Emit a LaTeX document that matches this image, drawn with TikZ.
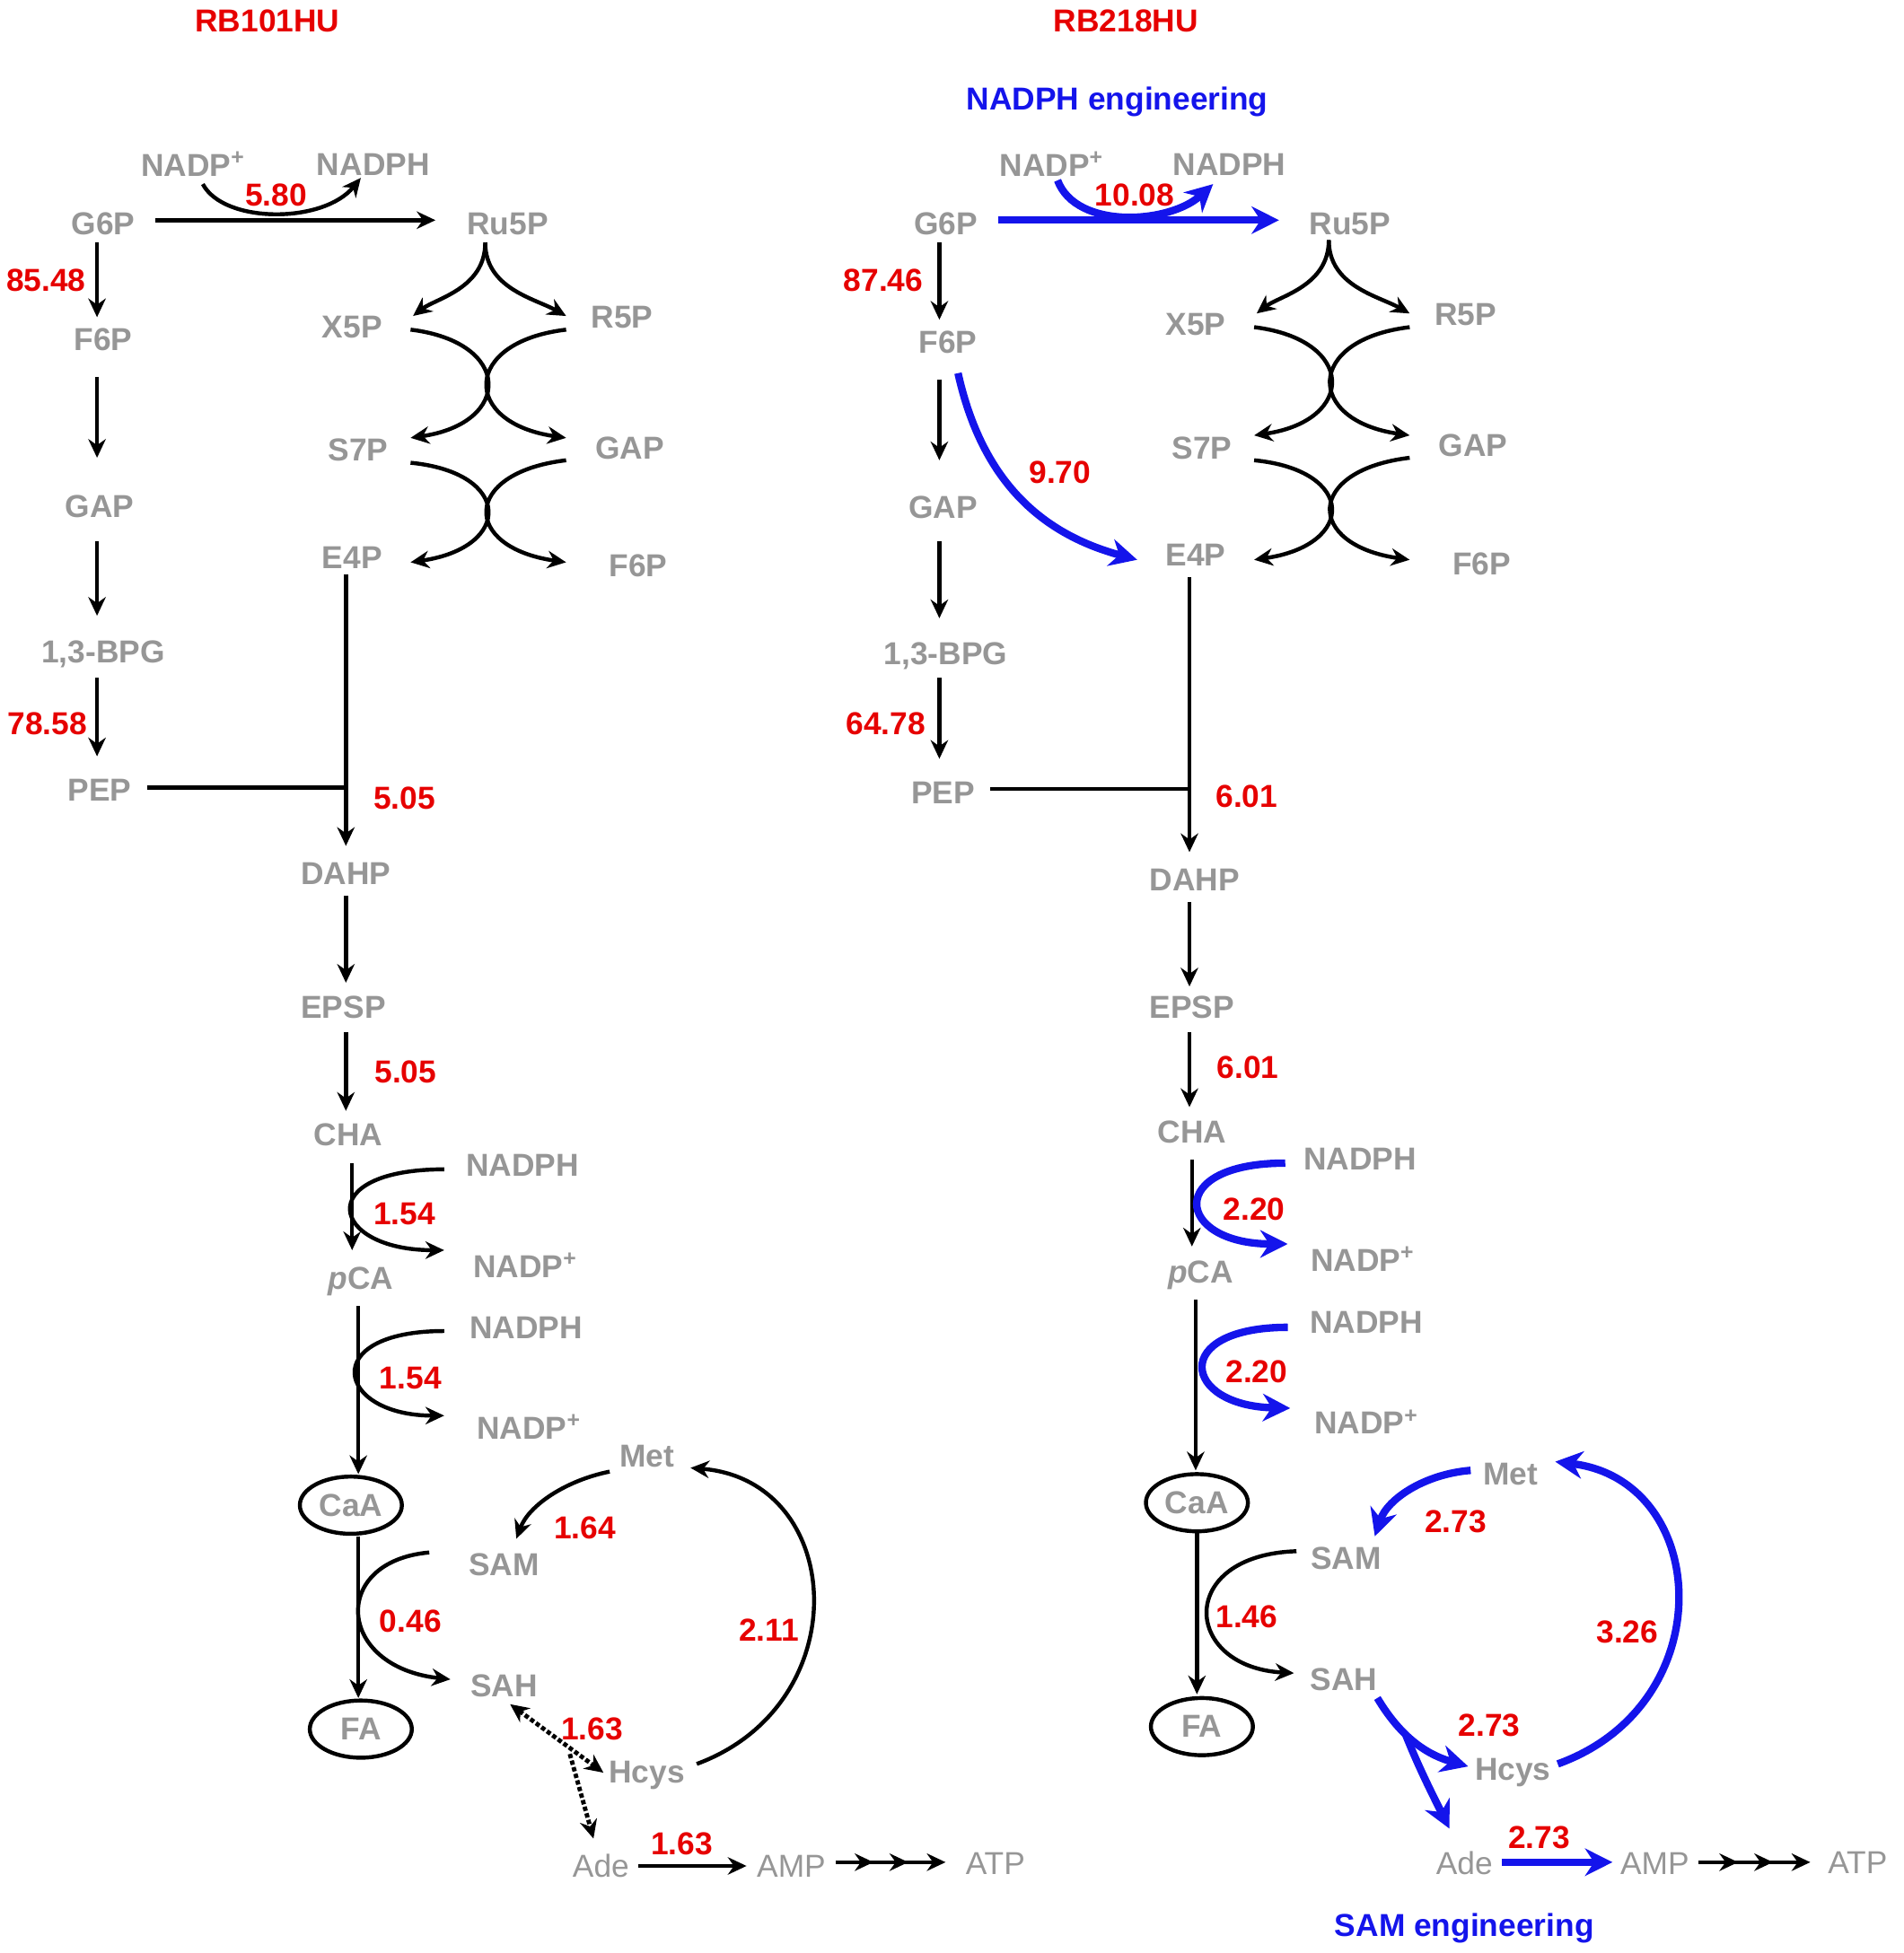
\documentclass[tikz,border=0pt]{standalone}
\usepackage{fontspec}
\setmainfont{Liberation Sans}
\usetikzlibrary{arrows.meta,shapes.geometric}
\definecolor{mgray}{RGB}{150,150,150}
\definecolor{mred}{RGB}{230,0,0}
\definecolor{mblue}{RGB}{20,20,235}
\begin{document}
\begin{tikzpicture}[x=1pt,y=-1pt,
 met/.style={text=mgray,font=\fontsize{25.5}{27}\selectfont\bfseries,inner sep=0},
 ade/.style={text=mgray,font=\fontsize{25.5}{27}\selectfont,inner sep=0},
 val/.style={text=mred,font=\fontsize{25.5}{27}\selectfont\bfseries,inner sep=0},
 ttl/.style={text=mred,font=\fontsize{25.5}{27}\selectfont\bfseries,inner sep=0},
 eng/.style={text=mblue,font=\fontsize{25.5}{27}\selectfont\bfseries,inner sep=0},
 ar/.style={line width=3.2pt,-{Stealth[length=15pt,width=14pt]}},
 ln/.style={line width=3.2pt},
 bar/.style={line width=6pt,mblue,-{Stealth[length=22pt,width=22pt]}},
 dt/.style={line width=3.5pt,dotted,{Stealth[length=15pt,width=14pt]}-{Stealth[length=15pt,width=14pt]}},
 ell/.style={draw,line width=3.2pt,shape=ellipse,minimum width=82pt,minimum height=46pt,inner sep=0,text=mgray,font=\fontsize{25.5}{27}\selectfont\bfseries}]
\useasboundingbox (0,0) rectangle (1530,1570);
\newcommand{\pppblock}{%
 \draw[ar] (390,195) .. controls (390,232) and (350,240) .. (332,254);
 \draw[ar] (390,195) .. controls (390,232) and (430,240) .. (455,254);
 \draw[ar] (330,265) .. controls (412,275) and (412,340) .. (330,352);
 \draw[ar] (455,265) .. controls (371,275) and (371,340) .. (455,352);
 \draw[ar] (330,372) .. controls (412,380) and (412,440) .. (330,452);
 \draw[ar] (455,370) .. controls (371,380) and (371,440) .. (455,452);
}
% ---------- LEFT -----------
\node[ttl] (t1) at (215,17) {RB101HU};
\node[met] (nadp1) at (155,132) {NADP\textsuperscript{+}};
\node[met] (nadph1) at (300,132) {NADPH};
\node[val] (v580) at (222,157) {5.80};
\node[met] (g6p) at (83,180) {G6P};
\node[met] (ru5p) at (408,180) {Ru5P};
\draw[ar] (125,177) -- (350,177);
\draw[ar] (163,148) .. controls (180,180) and (260,180) .. (290,143);
\node[val] (v8548) at (37,225) {85.48};
\node[met] (f6p) at (83,273) {F6P};
\draw[ar] (78,195) -- (78,255);
\draw[ar] (78,303) -- (78,368);
\node[met] (gap) at (80,407) {GAP};
\draw[ar] (78,435) -- (78,495);
\node[met] (bpg) at (83,526) {1,3-BPG};
\node[val] (v7858) at (38,582) {78.58};
\draw[ar] (78,545) -- (78,608);
\node[met] (pep) at (80,635) {PEP};
\node[met] (x5p) at (283,263) {X5P};
\node[met] (r5p) at (500,255) {R5P};
\node[met] (s7p) at (288,362) {S7P};
\node[met] (gap2) at (506,360) {GAP};
\node[met] (e4p) at (283,448) {E4P};
\node[met] (f6p2) at (513,455) {F6P};
\pppblock
\draw[ar] (278,462) -- (278,680);
\draw[ln] (118,633) -- (278,633);
\node[val] (v505a) at (325,642) {5.05};
\node[met] (dahp) at (278,702) {DAHP};
\draw[ar] (278,720) -- (278,790);
\node[met] (epsp) at (276,810) {EPSP};
\draw[ar] (278,830) -- (278,893);
\node[val] (v505b) at (326,862) {5.05};
\node[met] (cha) at (280,912) {CHA};
\node[met] (nadph2) at (420,937) {NADPH};
\draw[ar] (283,935) -- (283,1005);
\draw[ar] (357,940) .. controls (250,940) and (265,1005) .. (357,1005);
\node[val] (v154a) at (325,976) {1.54};
\node[met] (nadp2) at (422,1017) {NADP\textsuperscript{+}};
\node[met] (pca) at (290,1030) {\textit{p}CA};
\draw[ar] (288,1050) -- (288,1185);
\node[met] (nadph3) at (423,1067) {NADPH};
\draw[ar] (357,1070) .. controls (255,1070) and (270,1138) .. (357,1138);
\node[val] (v154b) at (330,1108) {1.54};
\node[met] (nadp3) at (425,1147) {NADP\textsuperscript{+}};
\node[ell] (caa) at (282,1210) {CaA};
\node[ell] (fa) at (290,1390) {FA};
\draw[ar] (288,1235) -- (288,1365);
\node[met] (met1) at (520,1171) {Met};
\node[met] (sam1) at (405,1258) {SAM};
\node[met] (sah1) at (405,1355) {SAH};
\node[met] (hcys1) at (520,1427) {Hcys};
\node[ade] (ade1) at (483,1500) {Ade};
\node[ade] (amp1) at (636,1500) {AMP};
\node[ade] (atp1) at (800,1498) {ATP};
\draw[ar] (490,1183) .. controls (455,1190) and (425,1210) .. (415,1237);
\node[val] (v164) at (470,1228) {1.64};
\draw[ar] (345,1248) .. controls (265,1255) and (270,1340) .. (362,1350);
\node[val] (v046) at (330,1303) {0.46};
\draw[ar] (560,1418) .. controls (690,1370) and (680,1190) .. (555,1180);
\node[val] (v211) at (618,1310) {2.11};
\draw[dt] (410,1370) -- (485,1425);
\draw[line width=3.5pt,dotted,-{Stealth[length=15pt,width=14pt]}] (458,1410) -- (477,1478);
\node[val] (v163a) at (476,1390) {1.63};
\draw[ar] (513,1500) -- (600,1500);
\node[val] (v163b) at (548,1482) {1.63};
\draw[ar] (672,1497) -- (702,1497);
\draw[ar] (698,1497) -- (730,1497);
\draw[ar] (726,1497) -- (760,1497);
% ---------- RIGHT -----------
\node[ttl] (t2) at (905,17) {RB218HU};
\node[eng] (e1) at (898,82) {NADPH engineering};
\node[met] (nadp4) at (845,132) {NADP\textsuperscript{+}};
\node[met] (nadph4) at (988,132) {NADPH};
\node[met] (g6pR) at (760,180) {G6P};
\node[met] (ru5pR) at (1085,180) {Ru5P};
\draw[bar] (802,177) -- (1028,177);
\draw[bar] (850,145) .. controls (865,185) and (940,180) .. (975,148);
\node[val] (v1008) at (912,157) {10.08};
\node[val] (v8746) at (710,225) {87.46};
\draw[ar] (755,195) -- (755,257);
\node[met] (f6pR) at (762,275) {F6P};
\draw[ar] (755,305) -- (755,370);
\draw[bar] (770,300) .. controls (790,390) and (840,430) .. (914,450);
\node[val] (v970) at (852,380) {9.70};
\node[met] (gapR) at (758,408) {GAP};
\draw[ar] (755,435) -- (755,497);
\node[met] (bpgR) at (760,527) {1,3-BPG};
\node[val] (v6478) at (712,582) {64.78};
\draw[ar] (755,545) -- (755,610);
\node[met] (pepR) at (758,637) {PEP};
\begin{scope}[shift={(678,-2)}]
\node[met] (x5pR) at (283,263) {X5P};
\node[met] (r5pR) at (500,255) {R5P};
\node[met] (s7pR) at (288,362) {S7P};
\node[met] (gap2R) at (506,360) {GAP};
\node[met] (e4pR) at (283,448) {E4P};
\node[met] (f6p2R) at (513,455) {F6P};
\pppblock
\end{scope}
\draw[ar] (956,464) -- (956,685);
\draw[ln] (796,634) -- (956,634);
\node[val] (v601a) at (1002,640) {6.01};
\node[met] (dahpR) at (960,707) {DAHP};
\draw[ar] (956,725) -- (956,793);
\node[met] (epspR) at (958,810) {EPSP};
\draw[ar] (956,830) -- (956,890);
\node[val] (v601b) at (1003,858) {6.01};
\node[met] (chaR) at (958,910) {CHA};
\draw[ar] (958,932) -- (958,1002);
\node[met] (nadph5) at (1093,932) {NADPH};
\draw[bar] (1033,935) .. controls (935,935) and (945,1000) .. (1035,1000);
\node[val] (v220a) at (1008,972) {2.20};
\node[met] (nadp5) at (1095,1012) {NADP\textsuperscript{+}};
\node[met] (pcaR) at (965,1025) {\textit{p}CA};
\draw[ar] (961,1045) -- (961,1182);
\node[met] (nadph6) at (1098,1063) {NADPH};
\draw[bar] (1035,1067) .. controls (940,1067) and (950,1130) .. (1037,1132);
\node[val] (v220b) at (1010,1103) {2.20};
\node[met] (nadp6) at (1098,1143) {NADP\textsuperscript{+}};
\node[ell] (caaR) at (962,1208) {CaA};
\node[ell] (faR) at (966,1388) {FA};
\draw[ar] (962,1232) -- (962,1362);
\node[met] (met2) at (1214,1185) {Met};
\node[met] (sam2) at (1082,1253) {SAM};
\node[met] (sah2) at (1080,1350) {SAH};
\node[met] (hcys2) at (1216,1425) {Hcys};
\node[ade] (ade2) at (1177,1498) {Ade};
\node[ade] (amp2) at (1330,1498) {AMP};
\node[ade] (atp2) at (1493,1497) {ATP};
\draw[bar] (1182,1182) .. controls (1145,1185) and (1115,1205) .. (1105,1235);
\node[val] (v273a) at (1170,1223) {2.73};
\draw[ar] (1042,1247) .. controls (945,1250) and (950,1340) .. (1040,1345);
\node[val] (v146) at (1002,1300) {1.46};
\draw[bar] (1252,1418) .. controls (1385,1370) and (1375,1190) .. (1250,1175);
\node[val] (v326) at (1308,1312) {3.26};
\draw[bar] (1107,1365) .. controls (1125,1395) and (1145,1410) .. (1180,1420);
\draw[bar] (1130,1395) .. controls (1140,1420) and (1150,1440) .. (1165,1470);
\node[val] (v273b) at (1197,1387) {2.73};
\draw[bar] (1207,1497) -- (1296,1497);
\node[val] (v273c) at (1237,1477) {2.73};
\draw[ar] (1365,1497) -- (1397,1497);
\draw[ar] (1393,1497) -- (1425,1497);
\draw[ar] (1421,1497) -- (1455,1497);
\node[eng] (e2) at (1177,1550) {SAM engineering};
\end{tikzpicture}
\end{document}
